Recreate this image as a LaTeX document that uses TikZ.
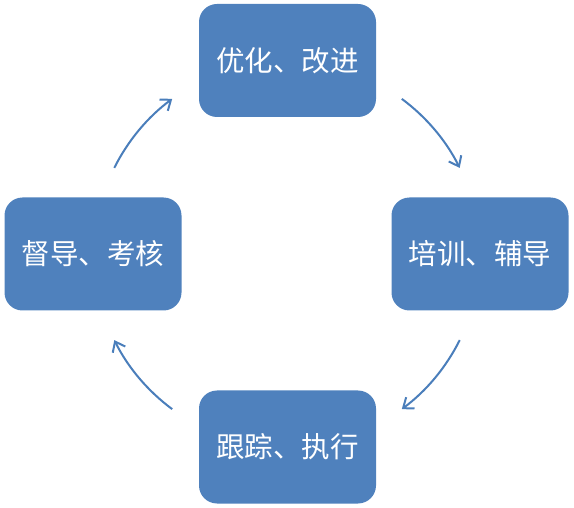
\documentclass[tikz,border=0pt]{standalone}
\usepackage{fontspec}
\setmainfont{Noto Sans CJK SC}
\usetikzlibrary{arrows.meta}
\definecolor{boxblue}{HTML}{4F81BD}
\definecolor{arrblue}{HTML}{4A7EBB}
\begin{document}
\begin{tikzpicture}[x=1pt,y=1pt,
  stepbox/.style={draw=none,fill=boxblue,rounded corners=18pt,minimum width=177pt,minimum height=113pt,text=white,font=\fontsize{28.5}{32}\selectfont,inner sep=0pt},
  arr/.style={draw=arrblue,line width=2pt,-{Straight Barb[length=9pt,width=14pt,line width=2pt]}}]
\useasboundingbox (0,0) rectangle (574,507);
\node[stepbox] (top) at (287.5,446.5) {优化、改进};
\node[stepbox] (right) at (480,253) {培训、辅导};
\node[stepbox] (bottom) at (287.5,60) {跟踪、执行};
\node[stepbox] (left) at (93,253) {督导、考核};
\coordinate (c) at (287,253);
\draw[arr] ([shift={(53.5:193)}]c) arc[start angle=53.5,end angle=26.5,radius=193];
\draw[arr] ([shift={(-26.5:193)}]c) arc[start angle=-26.5,end angle=-53.5,radius=193];
\draw[arr] ([shift={(-126.5:193)}]c) arc[start angle=-126.5,end angle=-153.5,radius=193];
\draw[arr] ([shift={(153.5:193)}]c) arc[start angle=153.5,end angle=126.5,radius=193];
\end{tikzpicture}
\end{document}
